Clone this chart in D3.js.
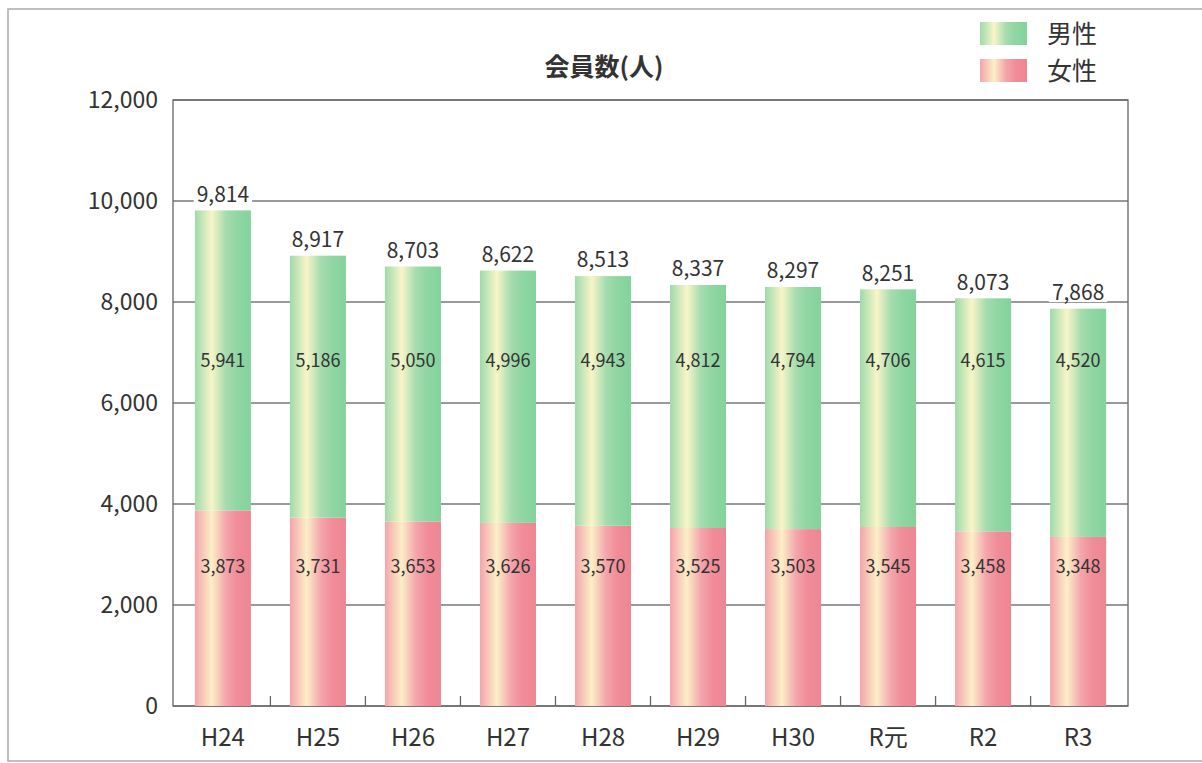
<!DOCTYPE html>
<html lang="ja">
<head>
    <meta charset="UTF-8">
    <title>会員数(人)</title>
    <script src="https://d3js.org/d3.v7.min.js"></script>
    <style>
        body { margin: 0; background: #fff; }
        text { font-family: "Noto Sans CJK JP", "Noto Sans", sans-serif; fill: #333; }
        .grid line { stroke: #777; stroke-width: 1.3px; }
        .ylab { font-size: 23px; }
        .xlab { font-size: 24px; }
        .val { font-size: 18px; }
        .total { font-size: 21px; }
    </style>
</head>
<body>
    <svg width="1202" height="763"></svg>

    <script>
        // data
        const years = ["H24", "H25", "H26", "H27", "H28", "H29", "H30", "R元", "R2", "R3"];
        const male = [5941, 5186, 5050, 4996, 4943, 4812, 4794, 4706, 4615, 4520];
        const female = [3873, 3731, 3653, 3626, 3570, 3525, 3503, 3545, 3458, 3348];
        const totals = [9814, 8917, 8703, 8622, 8513, 8337, 8297, 8251, 8073, 7868];
        const yTicks = [0, 2000, 4000, 6000, 8000, 10000, 12000];

        const svg = d3.select("svg");
        const plotL = 173, plotR = 1128, plotT = 100, plotB = 706;

        // outer frame
        svg.append("rect")
            .attr("x", 8).attr("y", 9)
            .attr("width", 1210).attr("height", 752)
            .attr("fill", "none").attr("stroke", "#aaa").attr("stroke-width", 1.5);

        const defs = svg.append("defs");
        function grad(id, stops) {
            const g = defs.append("linearGradient").attr("id", id)
                .attr("x1", "0%").attr("x2", "100%").attr("y1", "0%").attr("y2", "0%");
            stops.forEach(s => g.append("stop").attr("offset", s[0]).attr("stop-color", s[1]));
        }
        grad("gMale", [["0%", "#9fdaab"], ["30%", "#f8f5c8"], ["55%", "#a6dcae"], ["75%", "#8fd6a3"], ["100%", "#84d29c"]]);
        grad("gFemale", [["0%", "#f4a4ac"], ["30%", "#fbefc6"], ["55%", "#f4a6ac"], ["75%", "#f08d98"], ["100%", "#ee8692"]]);

        const x = d3.scaleBand().domain(years).range([plotL, plotR]).paddingInner(0.41).paddingOuter(0.23);
        const y = d3.scaleLinear().domain([0, 12000]).range([plotB, plotT]);
        const fmt = d3.format(",");

        // gridlines
        svg.append("g").attr("class", "grid")
            .selectAll("line").data(yTicks).enter().append("line")
            .attr("x1", plotL).attr("x2", plotR)
            .attr("y1", d => y(d)).attr("y2", d => y(d));

        // frame of plot
        svg.append("rect")
            .attr("x", plotL).attr("y", plotT)
            .attr("width", plotR - plotL).attr("height", plotB - plotT)
            .attr("fill", "none").attr("stroke", "#666").attr("stroke-width", 1.3);

        // y labels
        svg.selectAll(".ylab").data(yTicks).enter().append("text")
            .attr("class", "ylab")
            .attr("x", 158).attr("y", d => y(d))
            .attr("dy", "0.35em").attr("text-anchor", "end")
            .text(d => fmt(d));

        // category boundary ticks
        const band = x.step();
        svg.selectAll(".ctick").data(years.slice(1)).enter().append("line")
            .attr("x1", d => x(d) - x.paddingInner() * band / 2)
            .attr("x2", d => x(d) - x.paddingInner() * band / 2)
            .attr("y1", plotB).attr("y2", plotB - 10)
            .attr("stroke", "#666").attr("stroke-width", 1.3);

        const g = svg.selectAll(".bar").data(years).enter().append("g");

        g.append("rect")
            .attr("x", d => x(d)).attr("width", x.bandwidth())
            .attr("y", (d, i) => y(female[i])).attr("height", (d, i) => y(0) - y(female[i]))
            .attr("fill", "url(#gFemale)");
        g.append("rect")
            .attr("x", d => x(d)).attr("width", x.bandwidth())
            .attr("y", (d, i) => y(female[i] + male[i])).attr("height", (d, i) => y(female[i]) - y(female[i] + male[i]))
            .attr("fill", "url(#gMale)");

        const cx = d => x(d) + x.bandwidth() / 2;
        g.append("text").attr("class", "val")
            .attr("x", cx).attr("y", y(6830)).attr("dy", "0.35em").attr("text-anchor", "middle")
            .text((d, i) => fmt(male[i]));
        g.append("text").attr("class", "val")
            .attr("x", cx).attr("y", y(2750)).attr("dy", "0.35em").attr("text-anchor", "middle")
            .text((d, i) => fmt(female[i]));

        // totals with white backing to break the gridline
        g.each(function(d, i) {
            const sel = d3.select(this);
            const t = sel.append("text").attr("class", "total")
                .attr("x", cx(d)).attr("y", y(totals[i]) - 16).attr("dy", "0.35em")
                .attr("text-anchor", "middle")
                .text(fmt(totals[i]));
            const bb = t.node().getBBox();
            sel.insert("rect", "text.total")
                .attr("x", bb.x - 3).attr("y", bb.y + 4)
                .attr("width", bb.width + 6).attr("height", bb.height - 8)
                .attr("fill", "#fff");
        });

        // x labels
        svg.selectAll(".xlab").data(years).enter().append("text")
            .attr("class", "xlab")
            .attr("x", cx).attr("y", 738).attr("dy", "0.35em")
            .attr("text-anchor", "middle").text(d => d);

        // title
        svg.append("text")
            .attr("x", 604).attr("y", 67).attr("dy", "0.35em")
            .attr("text-anchor", "middle")
            .style("font-size", "25px").style("font-weight", "bold")
            .text("会員数(人)");

        // legend
        const legend = [{ name: "男性", fill: "url(#gMale)" }, { name: "女性", fill: "url(#gFemale)" }];
        const lg = svg.selectAll(".lg").data(legend).enter().append("g")
            .attr("transform", (d, i) => `translate(980,${22 + i * 37})`);
        lg.append("rect").attr("width", 47).attr("height", 23).attr("fill", d => d.fill);
        lg.append("text").attr("x", 67).attr("y", 12).attr("dy", "0.35em")
            .style("font-size", "25px").text(d => d.name);
    </script>
</body>
</html>
